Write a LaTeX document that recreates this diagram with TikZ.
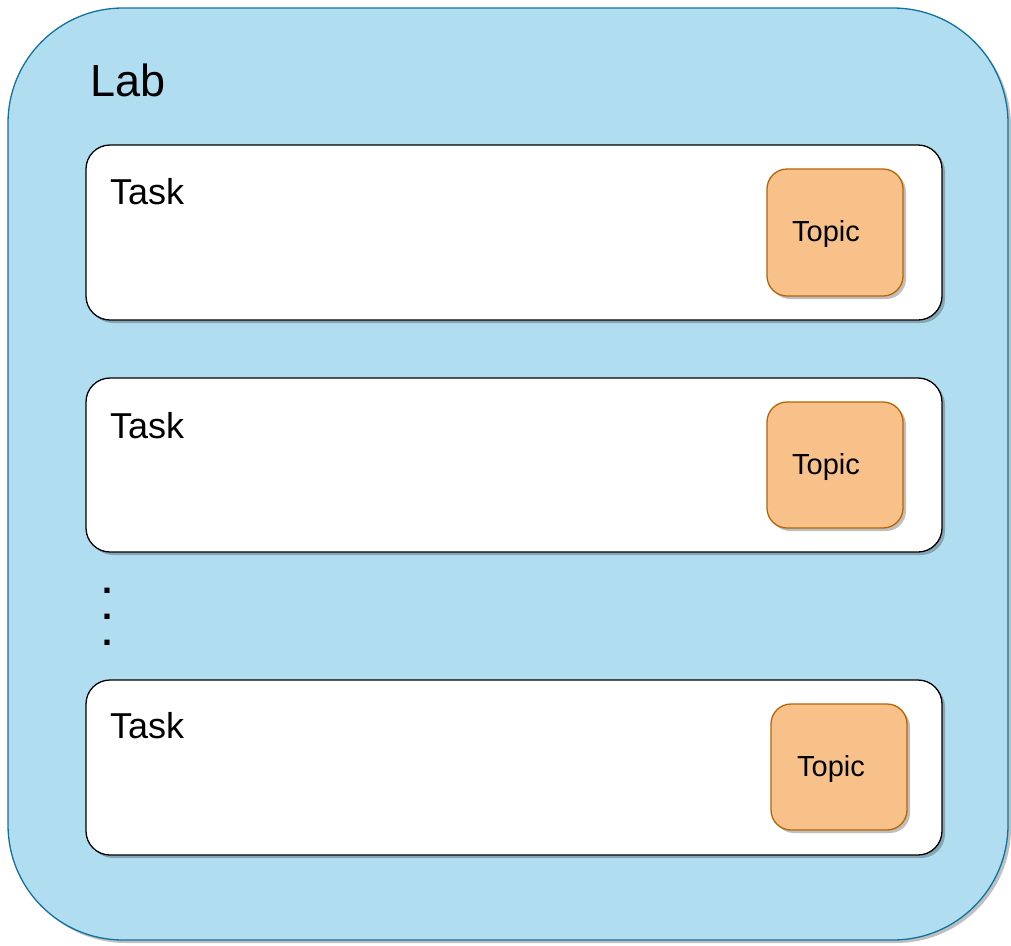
\documentclass[tikz,border=0pt]{standalone}
\usepackage{fontspec}
\setmainfont{Liberation Sans}
\usetikzlibrary{shadows}
\definecolor{labfill}{HTML}{B1DDF0}
\definecolor{labline}{HTML}{10739E}
\definecolor{topicfill}{HTML}{F8C189}
\definecolor{topicline}{HTML}{B46504}
\begin{document}
\begin{tikzpicture}[x=1pt,y=-1pt,
  every node/.style={inner sep=0pt, outer sep=0pt},
  shad/.style={drop shadow={shadow xshift=3pt, shadow yshift=-3pt, fill=black, opacity=0.25}},
  labbox/.style={draw=labline, fill=labfill, line width=1.3pt, rounded corners=115pt, shad, anchor=north west},
  taskbox/.style={draw=black, fill=white, line width=1.3pt, rounded corners=24pt, shad, anchor=north west, minimum width=856pt},
  topicbox/.style={draw=topicline, fill=topicfill, line width=1.3pt, rounded corners=20pt, shad, anchor=north west, minimum width=136pt},
  labtext/.style={anchor=base west, font=\fontsize{45}{54}\selectfont},
  tasktext/.style={anchor=base west, font=\fontsize{36}{43}\selectfont},
  topictext/.style={anchor=base, font=\fontsize{29}{35}\selectfont},
  dottext/.style={anchor=center, align=center, font=\fontsize{36}{26}\selectfont\bfseries}
]
\useasboundingbox (0,0) rectangle (1011,945);
\node[labbox, minimum width=1000pt, minimum height=932pt] (lab) at (8,8) {};
\node[labtext] (labt) at (90,96) {Lab};

\node[taskbox, minimum height=175pt] (task1) at (86,145) {};
\node[taskbox, minimum height=174pt] (task2) at (86,378) {};
\node[taskbox, minimum height=175pt] (task3) at (86,680) {};

\node[tasktext] (task1t) at (110,204) {Task};
\node[tasktext] (task2t) at (110,438) {Task};
\node[tasktext] (task3t) at (110,738) {Task};

\node[topicbox, minimum height=127pt] (topic1) at (767,169) {};
\node[topicbox, minimum height=126pt] (topic2) at (767,402) {};
\node[topicbox, minimum height=126pt] (topic3) at (771,704) {};

\node[topictext] (topic1t) at (826,241) {Topic};
\node[topictext] (topic2t) at (826,474) {Topic};
\node[topictext] (topic3t) at (831,776) {Topic};

\node[dottext] (dots) at (107,617) {.\\.\\.};
\end{tikzpicture}
\end{document}
